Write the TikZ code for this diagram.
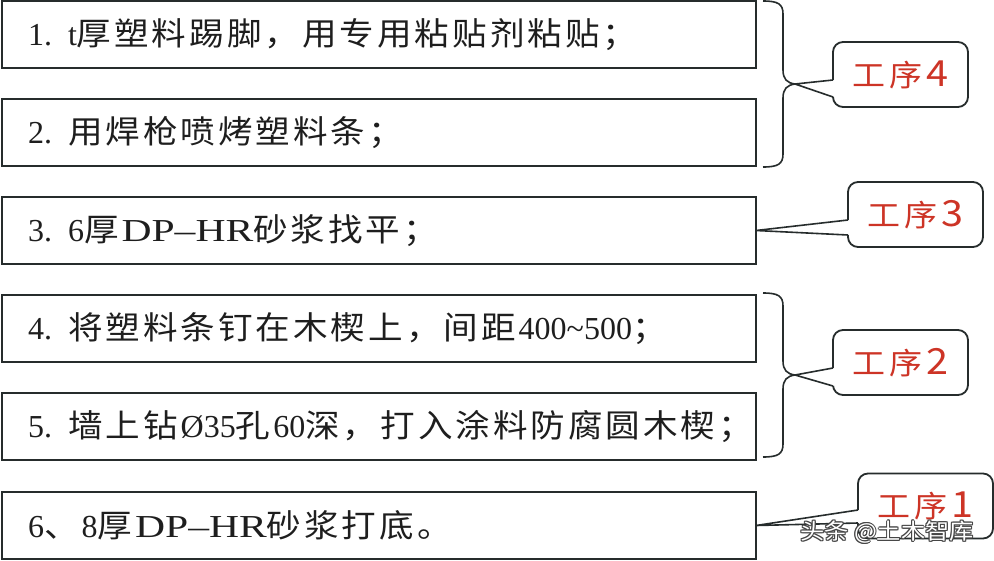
\documentclass[tikz,border=0pt]{standalone}
\usepackage{fontspec}
\usepackage{graphicx}
\usetikzlibrary{calc}
\setmainfont{Liberation Serif}
\newfontfamily\cjk[FakeStretch=1.08]{Noto Sans CJK SC}
\newfontfamily\lblfont[FakeStretch=1.1]{Noto Sans CJK SC}
\def\spacedaux#1{\ifx\relax#1\else#1\kern3pt\expandafter\spacedaux\fi}
\def\lblaux#1{\ifx\relax#1\else#1\kern4pt\expandafter\lblaux\fi}
\newcommand\zh[1]{{\cjk\fontsize{32}{36}\selectfont\spacedaux#1\relax}}
\newcommand\wide[1]{\scalebox{1.3}[1]{#1}}
\newcommand\stepnum[1]{\makebox[40pt][l]{#1}}
\newcommand\lbl[2]{{\fontsize{30}{34}\selectfont\lblaux#1\relax}{\fontsize{36}{34}\selectfont #2}}
\definecolor{bordc}{RGB}{38,44,44}
\definecolor{txtc}{RGB}{30,30,30}
\definecolor{redc}{RGB}{205,52,38}
\definecolor{wmc}{RGB}{70,70,70}
\begin{document}
\begin{tikzpicture}[x=1pt,y=-1pt,
 stepbox/.style={draw=bordc, line width=1.8pt, anchor=north west, minimum height=67pt,
   text width=702pt, inner xsep=26pt, inner ysep=0pt, outer sep=0pt, align=left,
   font=\fontsize{32}{36}\selectfont, text=txtc},
 tagbox/.style={draw=bordc, line width=1.8pt, rounded corners=10pt, fill=white,
   minimum width=135pt, minimum height=65pt, outer sep=0pt, inner sep=0pt,
   font=\lblfont, text=redc},
 braceline/.style={draw=bordc, line width=1.6pt},
 wedge/.style={draw=bordc, line width=1.6pt, line join=round},
 wmark/.style={font=\lblfont\fontsize{22}{24}\selectfont, inner sep=0pt}
]
\useasboundingbox (0,0) rectangle (994,560);

% step boxes
\node[stepbox] (b1) at (2,1)   {\stepnum{1.}t\zh{厚塑料踢脚，用专用粘贴剂粘贴；}};
\node[stepbox] (b2) at (2,99)  {\stepnum{2.}\zh{用焊枪喷烤塑料条；}};
\node[stepbox] (b3) at (2,197) {\stepnum{3.}6\zh{厚}\wide{DP–HR}\zh{砂浆找平；}};
\node[stepbox] (b4) at (2,295) {\stepnum{4.}\zh{将塑料条钉在木楔上，间距}400\textasciitilde500\zh{；}};
\node[stepbox] (b5) at (2,393) {\stepnum{5.}\zh{墙上钻}Ø35\zh{孔}60\zh{深，打入涂料防腐圆木楔；}};
\node[stepbox] (b6) at (2,492) {6\zh{、}8\zh{厚}\wide{DP–HR}\zh{砂浆打底。}};

% braces
\draw[braceline] (763,1) .. controls (778,1) and (783,4) .. (783,14) -- (783,70)
  .. controls (783,79) and (787,83) .. (795,84) coordinate (br4)
  .. controls (787,85) and (783,89) .. (783,98) -- (783,154)
  .. controls (783,164) and (778,167) .. (763,167);
\draw[braceline] (763,293) .. controls (778,293) and (783,296) .. (783,306) -- (783,361)
  .. controls (783,370) and (787,374) .. (795,375) coordinate (br2)
  .. controls (787,376) and (783,380) .. (783,389) -- (783,444)
  .. controls (783,454) and (778,457) .. (763,457);

% callouts
\node[tagbox] (t4) at (900.5,74.5) {\lbl{工序}{4}};
\node[tagbox] (t3) at (915.5,214.5) {\lbl{工序}{3}};
\node[tagbox] (t2) at (900.5,362.5) {\lbl{工序}{2}};
\node[tagbox] (t1) at (925.5,506) {\lbl{工序}{1}};

\coordinate (p4a) at ($(t4.west)+(0,5.5)$);
\coordinate (p4b) at ($(t4.west)+(0,22.5)$);
\coordinate (p3a) at ($(t3.west)+(0,5.5)$);
\coordinate (p3b) at ($(t3.west)+(0,20.5)$);
\coordinate (p2a) at ($(t2.west)+(0,5.5)$);
\coordinate (p2b) at ($(t2.west)+(0,23.5)$);
\coordinate (p1a) at ($(t1.west)+(0,4)$);
\coordinate (p1b) at ($(t1.west)+(0,17)$);

\fill[white] ($(p4a)+(1.5,0)$) -- (br4) -- ($(p4b)+(1.5,0)$) -- cycle;
\draw[wedge] (p4a) -- (br4) -- (p4b);
\fill[white] ($(p3a)+(1.5,0)$) -- (b3.east) -- ($(p3b)+(1.5,0)$) -- cycle;
\draw[wedge] (p3a) -- (b3.east) -- (p3b);
\fill[white] ($(p2a)+(1.5,0)$) -- (br2) -- ($(p2b)+(1.5,0)$) -- cycle;
\draw[wedge] (p2a) -- (br2) -- (p2b);
\fill[white] ($(p1a)+(1.5,0)$) -- (b6.east) -- ($(p1b)+(1.5,0)$) -- cycle;
\draw[wedge] (p1a) -- (b6.east) -- (p1b);

% watermark
\foreach \dx/\dy [count=\i] in {-1/0,1/0,0/-1,0/1,-0.8/-0.8,0.8/0.8,-0.8/0.8,0.8/-0.8}{
  \node[wmark, text=wmc] (wmo\i) at (887+\dx,532+\dy) {头条 @土木智库};
}
\node[wmark, text=white] (wm) at (887,532) {头条 @土木智库};
\end{tikzpicture}
\end{document}
